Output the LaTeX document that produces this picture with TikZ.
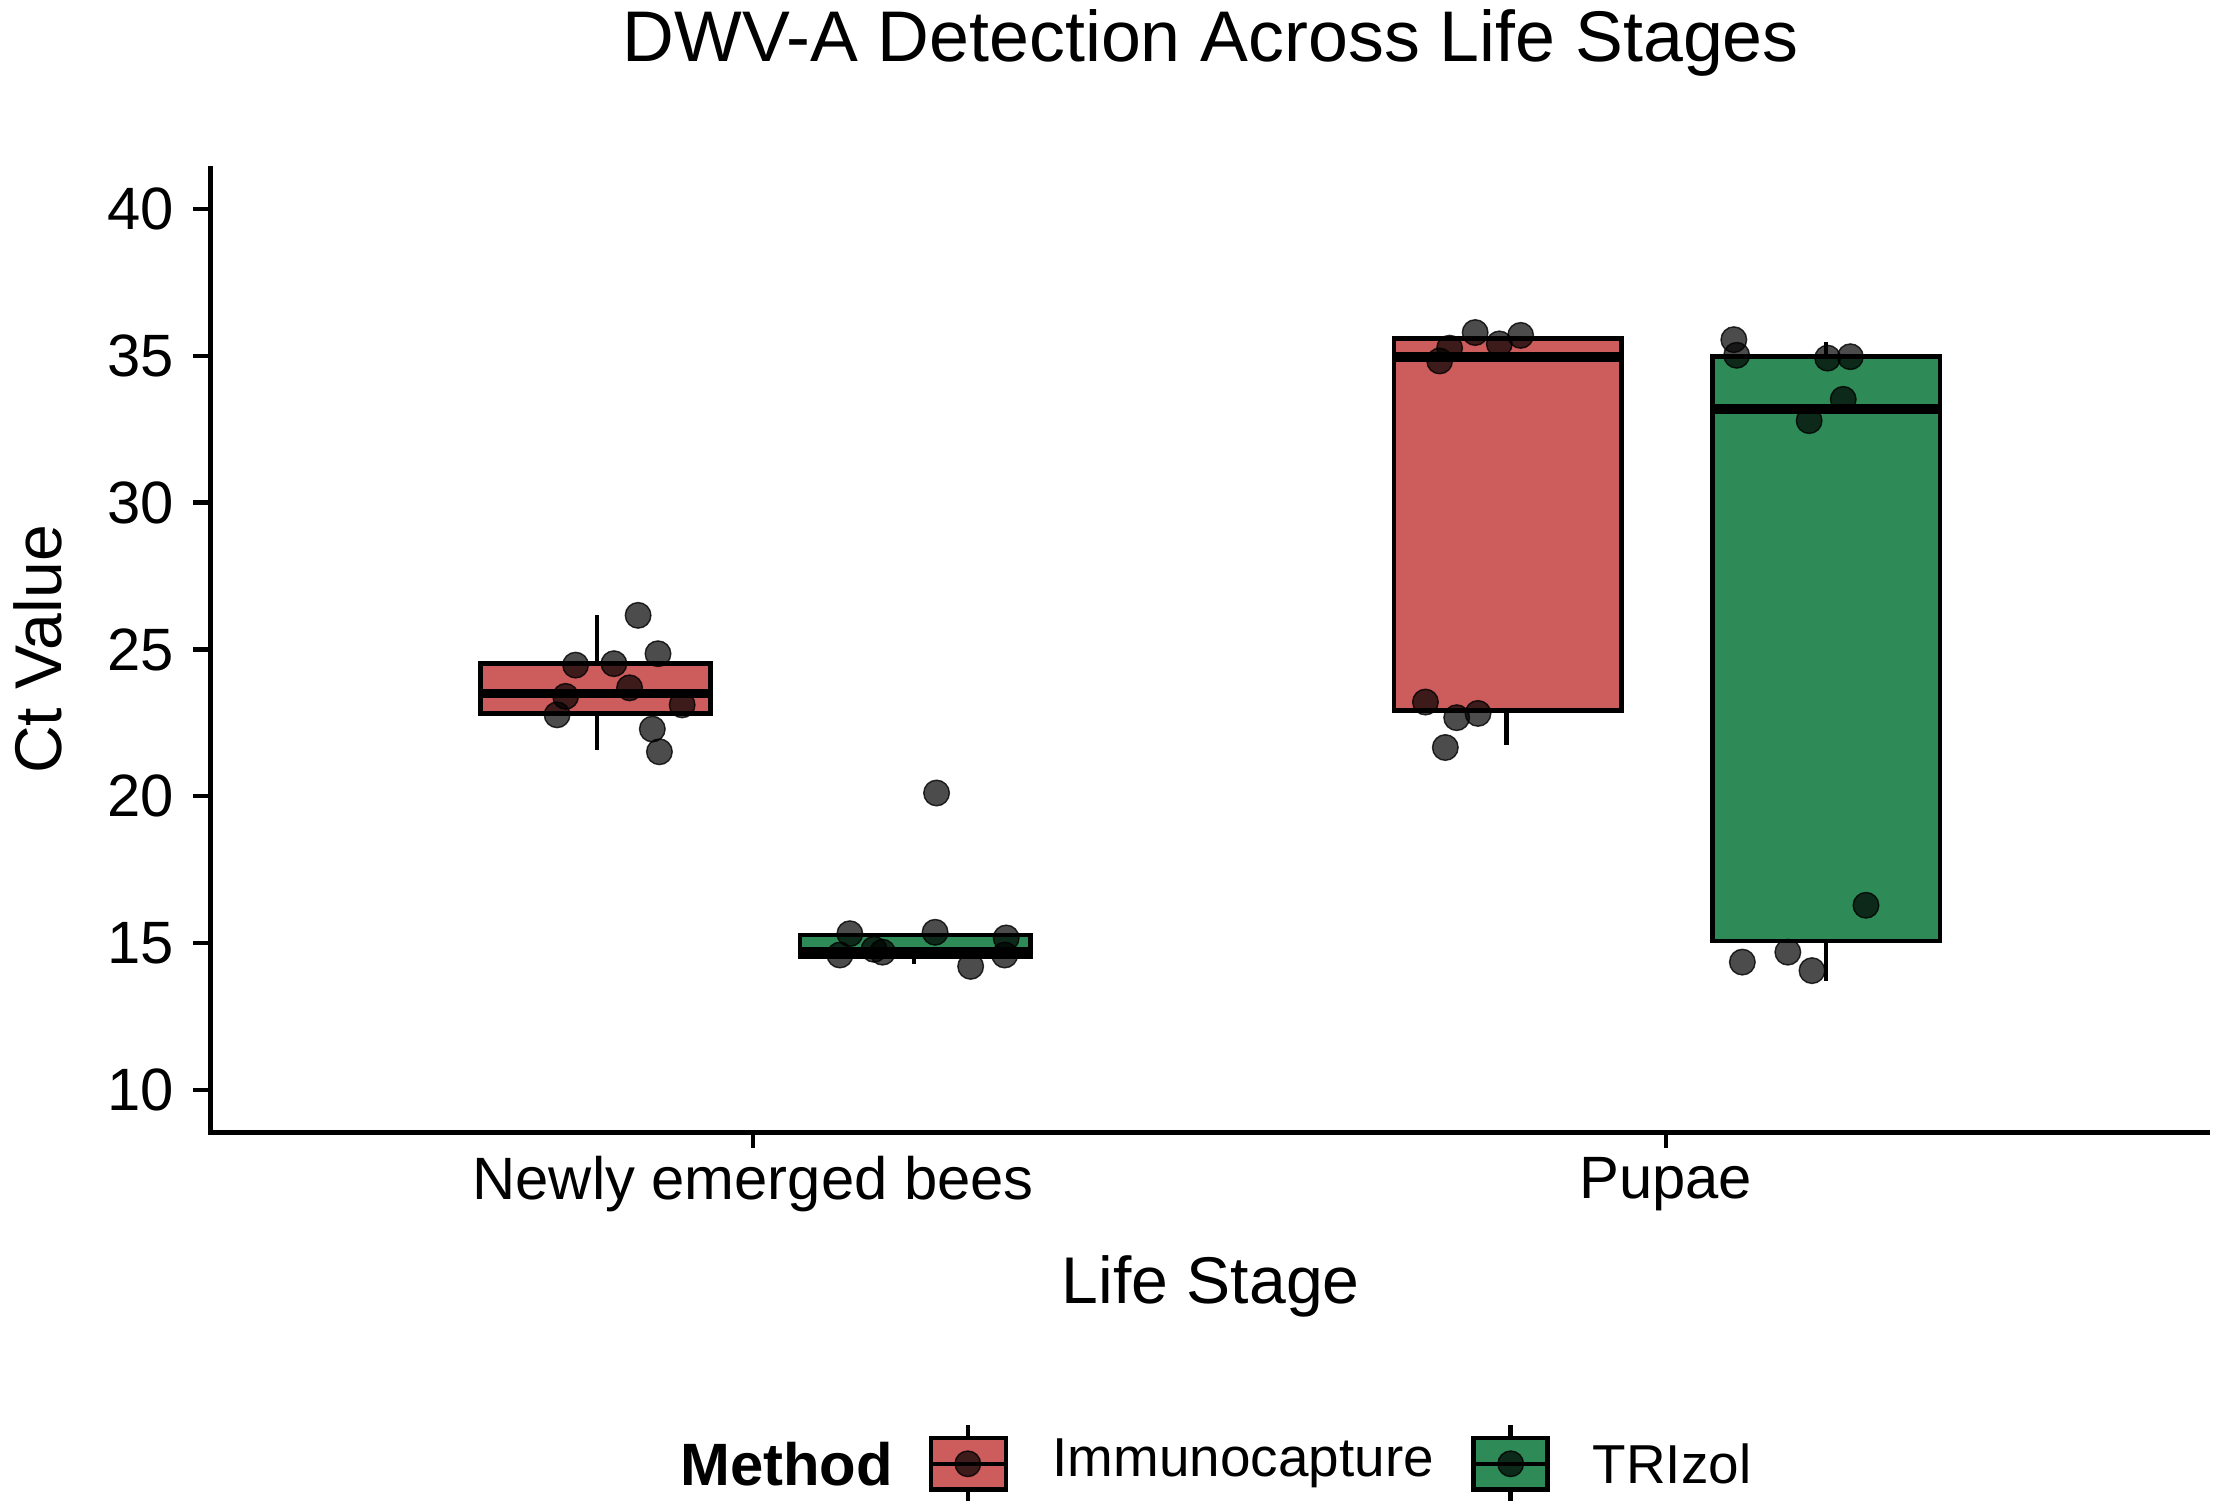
\documentclass[tikz,border=0pt]{standalone}
\usepackage{fontspec}
\setmainfont{Liberation Sans}
\begin{document}
\begin{tikzpicture}[x=0.01421cm,y=-0.01421cm,
 box/.style={draw=black,line width=1.3pt},
 med/.style={line width=2.8pt},
 wh/.style={line width=1.3pt},
 pt/.style={fill=black,fill opacity=0.7,draw=black,draw opacity=0.8,line width=0.4pt},
 tick/.style={font=\fontsize{17}{19}\selectfont}]
\useasboundingbox (0,0) rectangle (1560,1057.7);
\definecolor{rd}{HTML}{CD5C5C}\definecolor{gn}{HTML}{2E8B57}
\def\yv#1{767-(#1-10)*20.667}
% axes
\draw[line width=1.4pt] (148,117) -- (148,797) -- (1555,797);
\foreach \v in {10,15,...,40}{
 \draw[line width=1.2pt] (136,{\yv{\v}}) -- (148,{\yv{\v}});
 \node[tick,anchor=east] (t\v) at (131,{\yv{\v}}) {\v};}
\draw[line width=1.2pt] (530,797) -- (530,808);
\draw[line width=1.2pt] (1172,797) -- (1172,808);
\node[tick] (c1) at (530,833) {Newly emerged bees};
\node[tick] (c2) at (1172,833) {Pupae};
\node[font=\fontsize{18.8}{21}\selectfont] (xl) at (852,905) {Life Stage};
\node[font=\fontsize{18.8}{21}\selectfont,rotate=90] (yl) at (27,457) {Ct Value};
\node[font=\fontsize{20.4}{23}\selectfont] (ti) at (852,30) {DWV-A Detection Across Life Stages};
% boxes newly
\draw[wh] (420,433) -- (420,528);
\draw[box,fill=rd] (338,467) rectangle (500,502);
\draw[med] (338,488) -- (500,488);
\draw[wh] (643,665) -- (643,678);
\draw[box,fill=gn] (563,658) rectangle (725,673);
\draw[med] (563,670) -- (725,670);
% pupae
\draw[wh] (1060,500) -- (1060,524);
\draw[box,fill=rd] (981,238) rectangle (1141,500);
\draw[med] (981,251) -- (1141,251);
\draw[wh] (1285,662) -- (1285,690);
\draw[wh] (1285,241) -- (1285,251);
\draw[box,fill=gn] (1205,251) rectangle (1365,662);
\draw[med] (1205,288) -- (1365,288);
% points
\foreach \x/\y in {449/433,405/468,432/467,463/460,443/484,392/503,398/490,459/513,464/529,480/496,
 659/558,598/657,591/672,621/670,658/656,708/660,707/672,683/680,615/668,
 1038/234,1070/236,1055/242,1020/245,1013/254,1003/494,1025/505,1040/502,1017/526,
 1220/239,1222/250,1286/252,1302/251,1297/281,1273/296,1313/637,1226/677,1258/670,1275/683}
 \fill[pt] (\x,\y) circle (9);
% legend
\node[font=\fontsize{17}{19}\selectfont\bfseries,anchor=west] (lm) at (470,1030) {Method};
\draw[wh] (681,1003) -- (681,1056);
\draw[box,fill=rd] (655,1012) rectangle (708,1048);
\draw[line width=1.3pt] (655,1030) -- (708,1030);
\fill[pt] (681,1030) circle (9);
\node[font=\fontsize{15.6}{18}\selectfont,anchor=west] (l1) at (732,1030) {Immunocapture};
\draw[wh] (1063,1003) -- (1063,1056);
\draw[box,fill=gn] (1037,1012) rectangle (1089,1048);
\draw[line width=1.3pt] (1037,1030) -- (1089,1030);
\fill[pt] (1063,1030) circle (9);
\node[font=\fontsize{15.6}{18}\selectfont,anchor=west] (l2) at (1112,1030) {TRIzol};
\end{tikzpicture}
\end{document}
